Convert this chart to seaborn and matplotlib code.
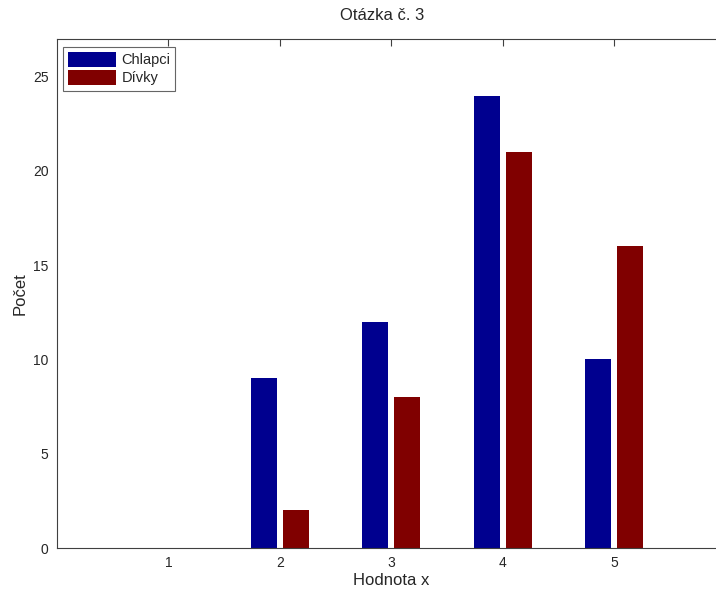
import matplotlib
matplotlib.use("Agg")
import matplotlib.pyplot as plt
import seaborn as sns
import pandas as pd

categories = [1, 2, 3, 4, 5]
chlapci = [0, 9, 12, 24, 10]
divky = [0, 2, 8, 21, 16]
series_names = ["Chlapci", "Dívky"]
colors = ["#00008F", "#800000"]
yticks = [0, 5, 10, 15, 20, 25]

df = pd.DataFrame({
    "x": categories * 2,
    "v": chlapci + divky,
    "s": [series_names[0]] * len(categories) + [series_names[1]] * len(categories),
})

sns.set_style("white")
plt.rcParams["font.family"] = ["Liberation Sans", "DejaVu Sans"]
plt.rcParams["font.size"] = 10

W, H = 716, 590
fig = plt.figure(figsize=(W / 100, H / 100), dpi=100)
ax = fig.add_axes([57 / W, 1 - 548 / H, (725.5 - 57) / W, (548 - 39) / H])

sns.barplot(data=df, x="x", y="v", hue="s", palette=colors, native_scale=True,
            width=0.57, gap=0.18, linewidth=0, saturation=1, ax=ax, errorbar=None)

ax.set_xlim(0, 6)
ax.set_ylim(0, 27)
ax.set_xticks(categories)
ax.set_xticklabels([str(c) for c in categories])
ax.set_yticks(yticks)
ax.tick_params(direction="in", length=5, width=0.8, color="#404040",
               top=True, right=False, labelsize=10, pad=6)
for name, sp in ax.spines.items():
    sp.set_visible(name != "right")
    sp.set_color("#404040")
    sp.set_linewidth(0.8)

ax.set_title("Otázka č. 3", fontsize=12, pad=14, x=0.487)
ax.set_xlabel("Hodnota x", fontsize=12, labelpad=2)
ax.set_ylabel("Počet", fontsize=12, labelpad=4)

leg = ax.legend(loc="upper left", bbox_to_anchor=(0.009, 0.985), frameon=True,
                fancybox=False, edgecolor="#404040", handlelength=3.3,
                handleheight=1.2, handletextpad=0.35, borderpad=0.35,
                labelspacing=0.2, fontsize=10.5, title=None, borderaxespad=0)
leg.get_frame().set_linewidth(0.8)

fig.savefig("out.png", dpi=100)
